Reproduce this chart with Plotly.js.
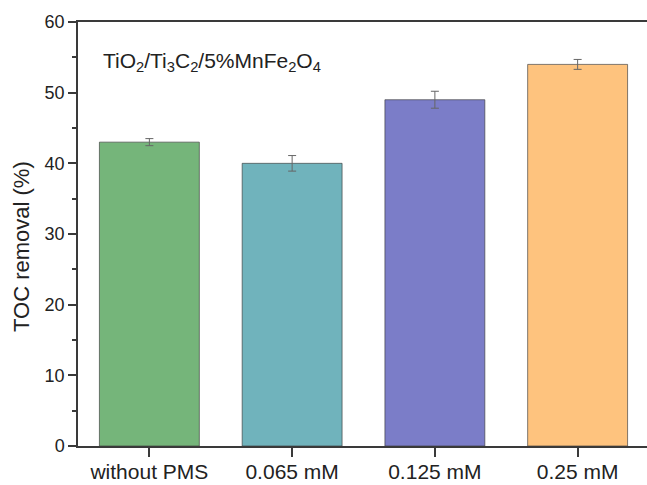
<!DOCTYPE html>
<html>
<head>
<meta charset="utf-8">
<script src="https://cdn.plot.ly/plotly-3.0.1.min.js"></script>
<style>
html,body{margin:0;padding:0;overflow:hidden;background:#fff;}
#chart{width:649px;height:485px;}
</style>
</head>
<body>
<div id="chart"></div>
<script>
const categories = ['without PMS', '0.065 mM', '0.125 mM', '0.25 mM'];
const tocRemoval = [43.0, 40.0, 49.0, 54.0];
const tocError = [0.5, 1.1, 1.2, 0.7];
const barColors = ['#75B57A', '#70B3BC', '#7B7DC8', '#FEC37E'];
const sampleLabel = 'TiO<sub>2</sub>/Ti<sub>3</sub>C<sub>2</sub>/5%MnFe<sub>2</sub>O<sub>4</sub>';
const yTitle = 'TOC removal (%)';

const trace = {
  type: 'bar',
  x: categories,
  y: tocRemoval,
  width: 0.70,
  marker: {color: barColors, line: {color: 'rgba(60,60,60,0.65)', width: 1}},
  error_y: {type: 'data', array: tocError, visible: true, color: '#666', thickness: 1, width: 4},
  hoverinfo: 'x+y'
};

const font = 'Arial, Liberation Sans, sans-serif';
const W = 649, H = 485, L = 78, T = 22, PW = 571, PH = 424;
const layout = {
  width: W, height: H,
  margin: {l: L, r: 0, t: T, b: H - T - PH},
  paper_bgcolor: '#fff', plot_bgcolor: '#fff',
  showlegend: false,
  font: {family: font, color: '#222'},
  xaxis: {
    type: 'category',
    range: [-0.5, 3.5],
    showline: true, linecolor: '#3a3a3a', linewidth: 1.5, mirror: true,
    ticks: 'outside', ticklen: 9, tickwidth: 1.5, tickcolor: '#3a3a3a',
    ticklabelstandoff: -3,
    tickfont: {family: font, size: 21, color: '#222'},
    showgrid: false, zeroline: false, fixedrange: true
  },
  yaxis: {
    range: [0, 60],
    dtick: 10,
    showline: true, linecolor: '#3a3a3a', linewidth: 1.5,
    ticks: 'outside', ticklen: 8, tickwidth: 1.5, tickcolor: '#3a3a3a',
    minor: {ticks: 'outside', ticklen: 4, dtick: 5, tickwidth: 1.5, tickcolor: '#3a3a3a', showgrid: false},
    tickfont: {family: font, size: 18, color: '#222'},
    showgrid: false, zeroline: false, fixedrange: true
  },
  annotations: [{
    text: sampleLabel,
    xref: 'paper', yref: 'paper',
    x: (101 - L) / PW, y: (T + PH - 62) / PH,
    xanchor: 'left', yanchor: 'middle',
    showarrow: false,
    font: {family: font, size: 21, color: '#222'}
  }, {
    text: yTitle,
    xref: 'paper', yref: 'paper',
    x: (21 - L) / PW, y: (T + PH - 247) / PH,
    xanchor: 'center', yanchor: 'middle',
    textangle: -90,
    showarrow: false,
    font: {family: font, size: 22, color: '#222'}
  }]
};

Plotly.newPlot('chart', [trace], layout, {displayModeBar: false});
</script>
</body>
</html>
